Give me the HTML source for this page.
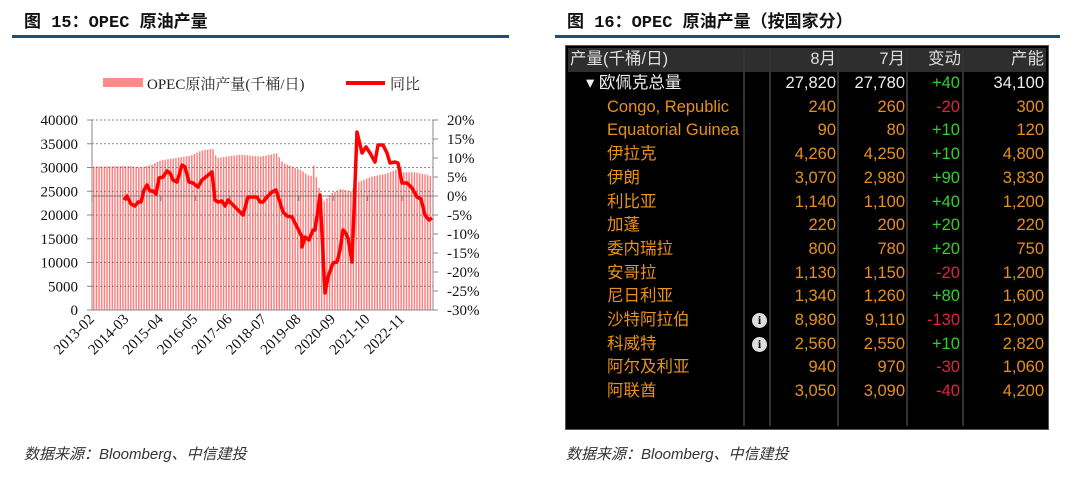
<!DOCTYPE html>
<html><head><meta charset="utf-8"><style>
body{margin:0;width:1080px;height:479px;background:#fff;position:relative;overflow:hidden;font-family:"Liberation Sans","Noto Sans CJK SC",sans-serif}
.t{position:absolute;font-size:17px;color:#111;font-family:"Liberation Mono","Noto Sans CJK SC",monospace;font-weight:bold;letter-spacing:0px}
.bl{position:absolute;height:3px;background:#1f4e79}
.src{position:absolute;font-size:15px;color:#333;font-style:italic;font-family:"Liberation Sans","Noto Sans CJK SC",sans-serif}
#tb{position:absolute;left:565px;top:45px;width:482px;height:383px;background:#000;border:1px solid #555}
.r{position:absolute;left:0;width:482px;height:23px;font-size:16.5px;line-height:23px;font-family:"Liberation Sans Narrow","Liberation Sans","Noto Sans CJK SC",sans-serif}
.r span{position:absolute;top:0;white-space:nowrap}
.vs{position:absolute;top:3px;bottom:3px;width:2px;background:#333}
.o{color:#e8901a}.g{color:#2ed12e}.d{color:#e8203a}.w{color:#eee}
</style></head><body>
<div class="t" style="left:24px;top:7px">图 15：OPEC 原油产量</div>
<div class="bl" style="left:12px;top:35px;width:497px"></div>
<div class="t" style="left:567px;top:7px">图 16：OPEC 原油产量（按国家分）</div>
<div class="bl" style="left:555px;top:35px;width:505px"></div>

<svg id="ch" width="540" height="420" style="position:absolute;left:0;top:0" font-family="Liberation Serif, Noto Serif CJK SC, serif"></svg>

<div id="tb"></div>
<div class="src" style="left:24px;top:443px">数据来源：Bloomberg、中信建投</div>
<div class="src" style="left:566px;top:443px">数据来源：Bloomberg、中信建投</div>
<script>
var s='';
var X0=92,X1=433,Y0=310,Y1=120;
s+='<rect x="103" y="78" width="40" height="9" fill="#ff8a8a"/><text x="147" y="89" font-size="15" fill="#222">OPEC原油产量(千桶/日)</text>';
s+='<line x1="346" y1="83" x2="385" y2="83" stroke="#f00" stroke-width="4"/><text x="390" y="89" font-size="15" fill="#222">同比</text>';
var cp=[[92,30200],[130,30300],[140,30000],[150,30500],[160,31500],[175,32000],[190,32500],[200,33500],[212,34000],[216,32000],[240,32700],[260,32300],[276,33000],[282,31000],[300,29500],[310,28000],[313,30500],[315,28500],[322,22500],[330,24500],[340,25500],[350,25000],[358,27000],[370,28000],[385,28700],[395,29500],[400,30000],[402,29000],[415,29000],[425,28500],[433,28000]];
function iv(x){for(var i=0;i<cp.length-1;i++){if(x>=cp[i][0]&&x<=cp[i+1][0]){var t=(x-cp[i][0])/(cp[i+1][0]-cp[i][0]);return cp[i][1]+t*(cp[i+1][1]-cp[i][1]);}}return 28000;}
for(var x=93;x<432;x+=2.65){var v=iv(x);var y=Y0-v/40000*190;s+='<rect x="'+x.toFixed(2)+'" y="'+y.toFixed(1)+'" width="1.5" height="'+(Y0-y).toFixed(1)+'" fill="#ff8080"/>';}
for(var k=1;k<=8;k++){var y=Y0-k*23.75;s+='<line x1="'+X0+'" y1="'+y+'" x2="'+X1+'" y2="'+y+'" stroke="#666" stroke-width="0.8" stroke-dasharray="2,2"/>';}
for(var k=0;k<=8;k++){var y=Y0-k*23.75;s+='<text x="78" y="'+(y+5)+'" font-size="15" text-anchor="end" fill="#111">'+(k*5000)+'</text>';
s+='<line x1="'+(X0-5)+'" y1="'+y+'" x2="'+X0+'" y2="'+y+'" stroke="#888"/>';}
for(var k=0;k<=10;k++){var y=Y1+k*19;var p=20-k*5;s+='<text x="447" y="'+(y+5)+'" font-size="15" fill="#111">'+p+'%</text>';
s+='<line x1="'+X1+'" y1="'+y+'" x2="'+(X1+5)+'" y2="'+y+'" stroke="#888"/>';}
s+='<line x1="'+X0+'" y1="'+Y1+'" x2="'+X0+'" y2="'+Y0+'" stroke="#888"/><line x1="'+X1+'" y1="'+Y1+'" x2="'+X1+'" y2="'+Y0+'" stroke="#888"/>';
s+='<line x1="'+X0+'" y1="196" x2="'+X1+'" y2="196" stroke="#777" stroke-width="1"/>';
s+='<line x1="'+X0+'" y1="'+Y0+'" x2="'+X1+'" y2="'+Y0+'" stroke="#888"/>';
var labs=['2013-02','2014-03','2015-04','2016-05','2017-06','2018-07','2019-08','2020-09','2021-10','2022-11'];
for(var i=0;i<labs.length;i++){var tx=X0+i*34.45;s+='<line x1="'+tx+'" y1="196" x2="'+tx+'" y2="201" stroke="#777"/>';
s+='<text transform="translate('+(tx+3)+',320) rotate(-45)" font-size="15" text-anchor="end" fill="#111">'+labs[i]+'</text>';}
var pts=[[124,200],[127,196],[131,204],[135,206],[138,202],[141,202],[144,190],[147,185],[150,191],[153,191],[156,194],[159,178],[163,177],[167,171],[170,173],[173,180],[177,182],[182,165],[185,167],[189,182],[193,183],[198,187],[202,180],[207,176],[212,172],[215,200],[218,202],[222,201],[225,206],[228,200],[233,205],[238,210],[243,215],[248,197],[253,197],[257,197],[260,202],[263,202],[267,197],[272,192],[276,190],[283,212],[287,216],[292,217],[297,227],[302,237],[302,247],[305,237],[309,240],[313,230],[315,230],[320,195],[325,293],[328,277],[333,263],[337,262],[340,250],[343,230],[345,232],[348,238],[352,262],[357,132],[362,153],[366,147],[370,153],[375,162],[378,145],[383,145],[387,153],[390,163],[395,162],[398,163],[402,183],[407,183],[412,188],[417,197],[421,199],[425,215],[429,220],[432,218]];
s+='<polyline fill="none" stroke="#f00" stroke-width="3.5" stroke-linejoin="round" points="'+pts.map(function(p){return p.join(',')}).join(' ')+'"/>';
document.getElementById('ch').innerHTML=s;
var rows=[['▾ 欧佩克总量','27,820','27,780','+40','34,100','w','g',1],
['Congo, Republic','240','260','-20','300','o','d'],
['Equatorial Guinea','90','80','+10','120','o','g'],
['伊拉克','4,260','4,250','+10','4,800','o','g'],
['伊朗','3,070','2,980','+90','3,830','o','g'],
['利比亚','1,140','1,100','+40','1,200','o','g'],
['加蓬','220','200','+20','220','o','g'],
['委内瑞拉','800','780','+20','750','o','g'],
['安哥拉','1,130','1,150','-20','1,200','o','d'],
['尼日利亚','1,340','1,260','+80','1,600','o','g'],
['沙特阿拉伯','8,980','9,110','-130','12,000','o','d',0,1],
['科威特','2,560','2,550','+10','2,820','o','g',0,1],
['阿尔及利亚','940','970','-30','1,060','o','d'],
['阿联酋','3,050','3,090','-40','4,200','o','d']];
var h='<div style="position:absolute;left:2px;top:2px;width:478px;height:24px;background:#2e2e2e"></div>';
[177,203,271,340,396].forEach(function(x){h+='<div class="vs" style="left:'+x+'px"></div>';});
h+='<div class="r w" style="top:2px;color:#ddd"><span style="left:4px">产量(千桶/日)</span><span style="right:212px">8月</span><span style="right:143px">7月</span><span style="right:87px">变动</span><span style="right:4px">产能</span></div>';
rows.forEach(function(r,i){var top=26+i*23.7;
var nl=r[7]?20:41;
h+='<div class="r" style="top:'+top+'px"><span class="'+(r[7]?'w':'o')+'" style="left:'+nl+'px">'+r[0]+'</span>'+
'<span class="'+r[5]+'" style="right:212px">'+r[1]+'</span><span class="'+r[5]+'" style="right:143px">'+r[2]+'</span><span class="'+r[6]+'" style="right:88px">'+r[3]+'</span><span class="'+r[5]+'" style="right:4px">'+r[4]+'</span></div>';
if(r[8]){h+='<div style="position:absolute;left:186px;top:'+(top+4)+'px;width:15px;height:15px;border-radius:50%;background:#ddd;color:#000;font:bold 12px Liberation Serif,serif;text-align:center;line-height:15px">i</div>';}
});
document.getElementById('tb').innerHTML=h;
</script>
</body></html>
